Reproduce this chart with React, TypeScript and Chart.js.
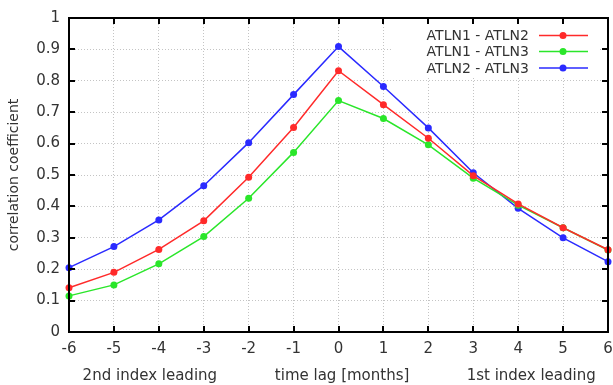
import React, { useEffect, useRef } from "react";
import { Chart, registerables } from "chart.js";

Chart.register(...registerables);

const lags = [-6, -5, -4, -3, -2, -1, 0, 1, 2, 3, 4, 5, 6];
const atln1_atln2 = [0.141, 0.19, 0.263, 0.354, 0.493, 0.651, 0.832, 0.724, 0.617, 0.498, 0.408, 0.332, 0.262];
const atln1_atln3 = [0.115, 0.15, 0.217, 0.304, 0.426, 0.572, 0.737, 0.68, 0.596, 0.49, 0.404, 0.332, 0.261];
const atln2_atln3 = [0.205, 0.272, 0.357, 0.466, 0.603, 0.756, 0.909, 0.782, 0.65, 0.507, 0.394, 0.3, 0.224];
const seriesNames = ["ATLN1 - ATLN2", "ATLN1 - ATLN3", "ATLN2 - ATLN3"];
const seriesColors = ["#ff2a2a", "#2ae62a", "#2a2aff"];
const yAxisTitle = "correlation coefficient";
const bottomLabels = ["2nd index leading", "time lag [months]", "1st index leading"];
const bottomLabelAt = [-4.2, 0.08, 4.29];
const yTickValues = [0.1, 0.2, 0.3, 0.4, 0.5, 0.6, 0.7, 0.8, 0.9];

const FONT = "'DejaVu Sans', sans-serif";
const FRAME = "#000000";

const decorPlugin = {
  id: "decor",
  afterDatasetsDraw(chart: any) {
    const ctx = chart.ctx;
    const sx = chart.scales.x;
    const sy = chart.scales.y;
    const left = sx.getPixelForValue(-6);
    const right = sx.getPixelForValue(6);
    const top = sy.getPixelForValue(1);
    const bottom = sy.getPixelForValue(0);
    ctx.save();
    ctx.setLineDash([]);
    // legend box
    ctx.fillStyle = "#ffffff";
    ctx.fillRect(393, 24, 207, 52);
    ctx.font = `14px ${FONT}`;
    ctx.textAlign = "right";
    ctx.textBaseline = "middle";
    const rows = [35.5, 51.5, 68];
    chart.data.datasets.forEach((ds: any, i: number) => {
      const y = rows[i];
      ctx.fillStyle = "#333333";
      ctx.fillText(ds.label, 529, y + 1);
      ctx.strokeStyle = ds.borderColor;
      ctx.lineWidth = 1.5;
      ctx.beginPath();
      ctx.moveTo(539, y);
      ctx.lineTo(588, y);
      ctx.stroke();
      ctx.fillStyle = ds.borderColor;
      ctx.beginPath();
      ctx.arc(563, y, 3.5, 0, Math.PI * 2);
      ctx.fill();
    });
    // inner ticks
    ctx.strokeStyle = FRAME;
    ctx.lineWidth = 2;
    ctx.beginPath();
    lags.forEach((v) => {
      const x = Math.round(sx.getPixelForValue(v));
      ctx.moveTo(x, bottom);
      ctx.lineTo(x, bottom - 6);
      ctx.moveTo(x, top);
      ctx.lineTo(x, top + 6);
    });
    yTickValues.forEach((v) => {
      const y = Math.round(sy.getPixelForValue(v));
      ctx.moveTo(left, y);
      ctx.lineTo(left + 6, y);
      ctx.moveTo(right, y);
      ctx.lineTo(right - 6, y);
    });
    ctx.stroke();
    // frame
    ctx.beginPath();
    ctx.moveTo(left, top);
    ctx.lineTo(right, top);
    ctx.lineTo(right, bottom);
    ctx.lineTo(left, bottom);
    ctx.closePath();
    ctx.stroke();
    // bottom labels
    ctx.fillStyle = "#333333";
    ctx.font = `15px ${FONT}`;
    ctx.textAlign = "center";
    ctx.textBaseline = "middle";
    bottomLabels.forEach((t, i) => {
      ctx.fillText(t, sx.getPixelForValue(bottomLabelAt[i]), 376);
    });
    ctx.restore();
  },
};

export default function App() {
  const ref = useRef<HTMLCanvasElement | null>(null);
  useEffect(() => {
    if (!ref.current) return;
    const seriesData = [atln1_atln2, atln1_atln3, atln2_atln3];
    const chart = new Chart(ref.current, {
      type: "line",
      data: {
        datasets: seriesData.map((vals, i) => ({
          label: seriesNames[i],
          data: lags.map((x, j) => ({ x, y: vals[j] })),
          borderColor: seriesColors[i],
          backgroundColor: seriesColors[i],
          borderWidth: 1.5,
          pointRadius: 3.5,
          pointBorderWidth: 0,
          pointBackgroundColor: seriesColors[i],
          tension: 0,
          fill: false,
          clip: false,
        })),
      },
      options: {
        animation: false,
        responsive: false,
        maintainAspectRatio: false,
        layout: { padding: { left: 0, top: 18, right: 5, bottom: 0 } },
        plugins: { legend: { display: false }, tooltip: { enabled: false } },
        scales: {
          x: {
            type: "linear",
            min: -6,
            max: 6,
            afterFit: (s: any) => {
              s.height = 53;
              s.paddingLeft = 0;
              s.paddingRight = 0;
            },
            ticks: {
              stepSize: 1,
              padding: 8,
              color: "#333",
              font: { family: FONT, size: 15 },
              maxRotation: 0,
            },
            grid: { color: "#c4c4c4", lineWidth: 1, drawTicks: false },
            border: { display: false, dash: [1, 2] },
          },
          y: {
            min: 0,
            max: 1,
            afterFit: (s: any) => {
              s.width = 69;
              s.paddingTop = 0;
              s.paddingBottom = 0;
            },
            ticks: {
              stepSize: 0.1,
              padding: 9,
              color: "#333",
              font: { family: FONT, size: 15 },
              callback: (v: any) => String(Number(Number(v).toFixed(1))),
            },
            grid: { color: "#c4c4c4", lineWidth: 1, drawTicks: false },
            border: { display: false, dash: [1, 2] },
            title: {
              display: true,
              text: yAxisTitle,
              color: "#333",
              font: { family: FONT, size: 14 },
              padding: { top: 6, bottom: 0 },
            },
          },
        },
      },
      plugins: [decorPlugin],
    } as any);
    return () => chart.destroy();
  }, []);
  return (
    <div style={{ position: "absolute", left: 0, top: 0, width: 613, height: 385, background: "#fff" }}>
      <canvas ref={ref} width={613} height={385} style={{ display: "block", width: 613, height: 385 }} />
    </div>
  );
}
